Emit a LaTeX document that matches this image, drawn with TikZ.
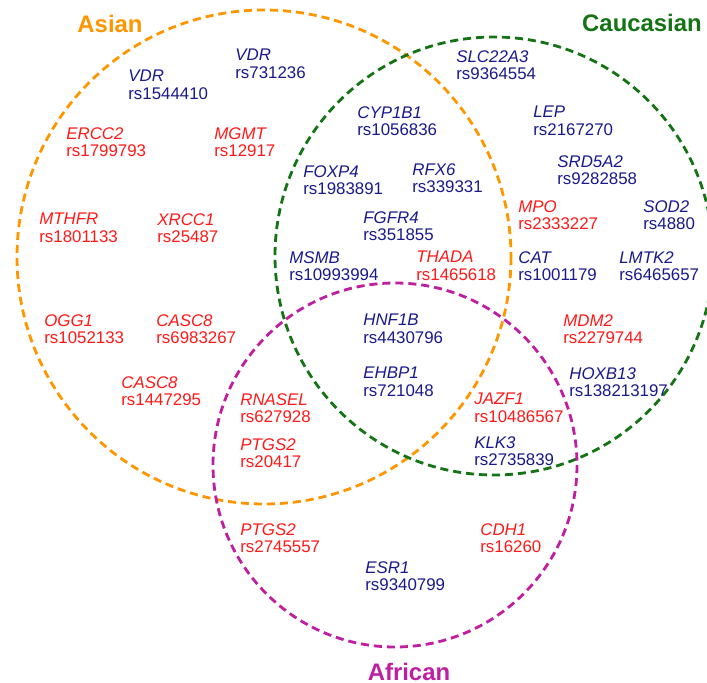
\documentclass[tikz,border=0pt]{standalone}
\usepackage{fontspec}
\setmainfont{Liberation Sans}
\usetikzlibrary{positioning}

\definecolor{asianorange}{RGB}{255,150,0}
\definecolor{caucgreen}{RGB}{20,115,20}
\definecolor{afrmagenta}{RGB}{192,30,160}
\definecolor{snpblue}{RGB}{25,25,140}
\definecolor{snpred}{RGB}{255,25,25}

\newcommand{\genefont}{\fontsize{9.6}{10}\selectfont}
\newcommand{\snp}[2]{\textit{#1}\\#2}

\begin{document}
\begin{tikzpicture}[x=0.02cm, y=-0.02cm,
    gene/.style={align=left, anchor=north west, inner sep=0pt, font=\genefont},
    blu/.style={gene, text=snpblue},
    rd/.style={gene, text=snpred},
    ring/.style={dashed, dash pattern=on 4.6pt off 2.8pt, line width=1.6pt},
    title/.style={font=\fontsize{13.6}{14}\selectfont\bfseries, anchor=base, inner sep=0pt}]

    \useasboundingbox (0,0) rectangle (707,683);

    \draw[ring, asianorange] (264,257) circle (247);
    \draw[ring, caucgreen] (494,256) circle (219);
    \draw[ring, afrmagenta] (395,465) circle (182);

    \node(asian)[title, text=asianorange] at (110,32) {Asian};
    \node(caucasian)[title, text=caucgreen] at (642,31) {Caucasian};
    \node(african)[title, text=afrmagenta] at (409,680) {African};

    % Asian only
    \node(VDRa)[blu] at (128,70) {\snp{VDR}{rs1544410}};
    \node(VDRb)[blu] at (235,49) {\snp{VDR}{rs731236}};
    \node(ERCC2)[rd] at (66,127) {\snp{ERCC2}{rs1799793}};
    \node(MGMT)[rd] at (214,127) {\snp{MGMT}{rs12917}};
    \node(MTHFR)[rd] at (39,213) {\snp{MTHFR}{rs1801133}};
    \node(XRCC1)[rd] at (157,213) {\snp{XRCC1}{rs25487}};
    \node(OGG1)[rd] at (44,314) {\snp{OGG1}{rs1052133}};
    \node(CASC8a)[rd] at (156,314) {\snp{CASC8}{rs6983267}};
    \node(CASC8b)[rd] at (121,376) {\snp{CASC8}{rs1447295}};

    % Caucasian only
    \node(SLC22A3)[blu] at (456,50) {\snp{SLC22A3}{rs9364554}};
    \node(LEP)[blu] at (533,106) {\snp{LEP}{rs2167270}};
    \node(SRD5A2)[blu] at (557,155) {\snp{SRD5A2}{rs9282858}};
    \node(MPO)[rd] at (518,200) {\snp{MPO}{rs2333227}};
    \node(SOD2)[blu] at (643,200) {\snp{SOD2}{rs4880}};
    \node(CAT)[blu] at (518,251) {\snp{CAT}{rs1001179}};
    \node(LMTK2)[blu] at (619,251) {\snp{LMTK2}{rs6465657}};
    \node(MDM2)[rd] at (563,314) {\snp{MDM2}{rs2279744}};
    \node(HOXB13)[blu] at (569,367) {\snp{HOXB13}{rs138213197}};

    % Asian and Caucasian
    \node(CYP1B1)[blu] at (357,106) {\snp{CYP1B1}{rs1056836}};
    \node(FOXP4)[blu] at (303,165) {\snp{FOXP4}{rs1983891}};
    \node(RFX6)[blu] at (412,163) {\snp{RFX6}{rs339331}};
    \node(FGFR4)[blu] at (363,211) {\snp{FGFR4}{rs351855}};
    \node(MSMB)[blu] at (289,251) {\snp{MSMB}{rs10993994}};
    \node(THADA)[rd] at (416,251) {\snp{THADA}{rs1465618}};

    % all three
    \node(HNF1B)[blu] at (363,314) {\snp{HNF1B}{rs4430796}};
    \node(EHBP1)[blu] at (363,367) {\snp{EHBP1}{rs721048}};

    % Asian and African
    \node(RNASEL)[rd] at (240,393) {\snp{RNASEL}{rs627928}};
    \node(PTGS2a)[rd] at (240,438) {\snp{PTGS2}{rs20417}};

    % Caucasian and African
    \node(JAZF1)[rd] at (474,393) {\snp{JAZF1}{rs10486567}};
    \node(KLK3)[blu] at (474,436) {\snp{KLK3}{rs2735839}};

    % African only
    \node(PTGS2b)[rd] at (240,523) {\snp{PTGS2}{rs2745557}};
    \node(CDH1)[rd] at (480,523) {\snp{CDH1}{rs16260}};
    \node(ESR1)[blu] at (365,561) {\snp{ESR1}{rs9340799}};

\end{tikzpicture}
\end{document}
